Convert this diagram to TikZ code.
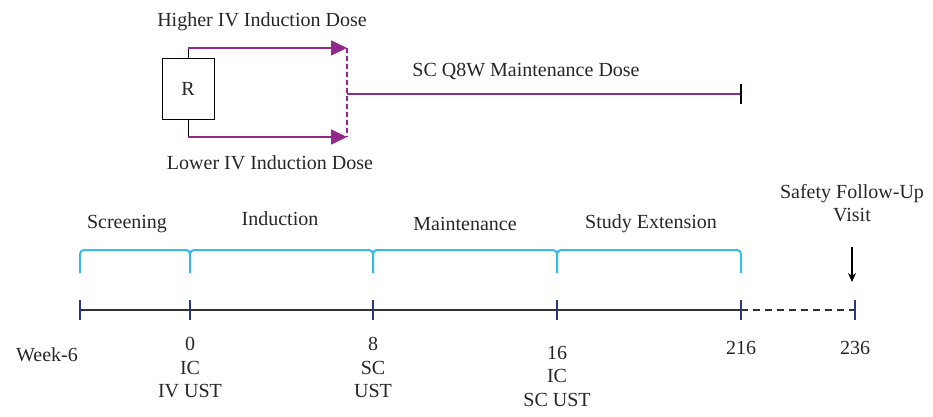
\documentclass[tikz,border=0pt]{standalone}
\usepackage{fontspec}
\setmainfont{Liberation Serif}
\usetikzlibrary{arrows.meta}
\definecolor{dosepurple}{RGB}{145,40,140}
\definecolor{phaseblue}{RGB}{59,185,234}
\definecolor{ticknavy}{RGB}{46,52,134}
\definecolor{axisgray}{RGB}{50,50,50}
\tikzset{
	lbl/.style={font=\fontsize{20}{23.5}\selectfont, align=center, inner sep=0pt, text=black!85},
	dose/.style={dosepurple, line width=1.6pt},
	phase/.style={phaseblue, line width=2pt, rounded corners=4pt},
	tickmark/.style={ticknavy, line width=1.5pt}
}

\begin{document}
\begin{tikzpicture}[x=1pt,y=-1pt]
	\useasboundingbox (0,0) rectangle (933,417);
	
	% randomisation and dose arms
	\node[draw, line width=1pt, minimum width=52pt, minimum height=60pt, lbl] (R) at (188,89) {R};
	\coordinate (hiEnd) at (347,48);
	\coordinate (loEnd) at (347,137);
	\coordinate (hiStart) at (R.north |- hiEnd);
	\coordinate (loStart) at (R.south |- loEnd);
	\coordinate (mStart) at (347,94);
	\coordinate (mEnd) at (741,94);
	
	\draw[line width=1pt] (R.north) -- (hiStart);
	\draw[line width=1pt] (R.south) -- (loStart);
	\draw[dose, -{Triangle[length=16pt,width=15pt]}] (hiStart) -- (hiEnd);
	\draw[dose, -{Triangle[length=16pt,width=15pt]}] (loStart) -- (loEnd);
	\draw[dose, dashed, dash pattern=on 5pt off 3pt] (hiEnd) -- (loEnd);
	\draw[dose] (mStart) -- (mEnd);
	\draw[line width=2pt] ([yshift=10pt]mEnd) -- ([yshift=-10pt]mEnd);
	
	\node[lbl] (hiLbl) at (262,22) {Higher IV Induction Dose};
	\node[lbl] (loLbl) at (270,163) {Lower IV Induction Dose};
	\node[lbl] (mLbl) at (526,71) {SC Q8W Maintenance Dose};
	
	% phases
	\foreach \a/\b in {80/190, 190/373, 373/557, 557/741}
	\draw[phase] (\a,273) -- (\a,250) -- (\b,250) -- (\b,273);
	
	\node[lbl] (scr) at (127,224) {Screening};
	\node[lbl] (ind) at (280,219) {Induction};
	\node[lbl] (mnt) at (465,224) {Maintenance};
	\node[lbl] (ext) at (651,224) {Study Extension};
	\node[lbl] (safe) at (852,203) {Safety Follow-Up\\Visit};
	
	% timeline
	\foreach \n/\x in {a/80, b/190, c/373, d/557, e/741, f/855}
	\coordinate (w\n) at (\x,310);
	
	\draw[axisgray, line width=1.5pt] (wa) -- (we);
	\draw[axisgray, line width=1.5pt, dashed, dash pattern=on 7pt off 5pt] (we) -- (wf);
	
	\foreach \n in {a, b, c, d, e, f}
	\draw[tickmark] ([yshift=10pt]w\n) -- ([yshift=-10pt]w\n);
	
	\coordinate (arrTop) at (852,247);
	\coordinate (arrTip) at (852,282);
	\draw[line width=1.2pt, -{Stealth[length=9pt,width=8pt]}] (arrTop) -- (arrTip);
	
	\node[lbl] (wk) at (47,355) {Week-6};
	\node[lbl, anchor=north] (l0) at (190,337) {0\\IC\\IV UST};
	\node[lbl, anchor=north] (l8) at (373,337) {8\\SC\\UST};
	\node[lbl, anchor=north] (l16) at (557,346) {16\\IC\\SC UST};
	\node[lbl] (l216) at (741,348) {216};
	\node[lbl] (l236) at (855,348) {236};
\end{tikzpicture}
\end{document}
